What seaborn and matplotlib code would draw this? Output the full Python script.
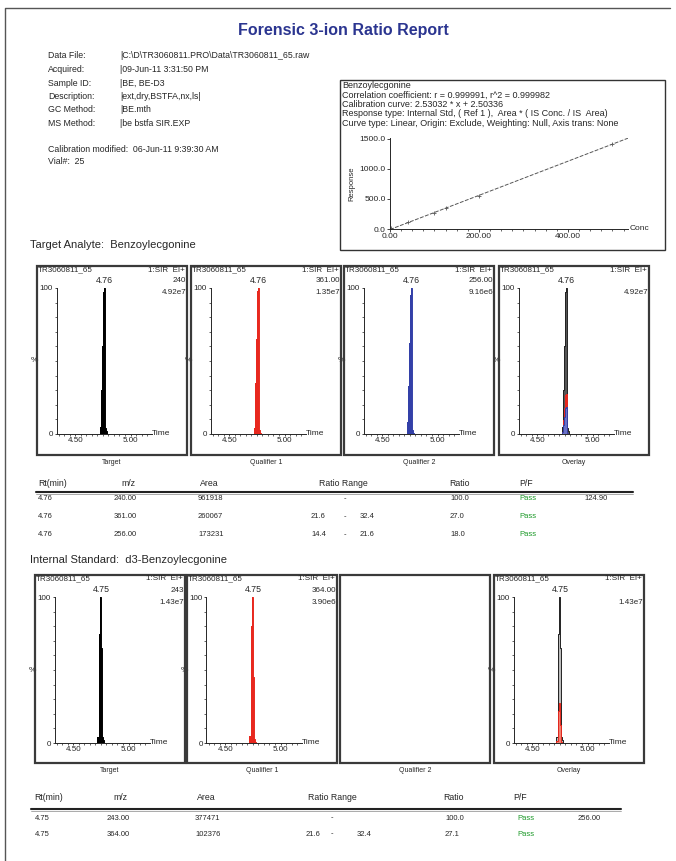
import numpy as np
import pandas as pd
import seaborn as sns
import matplotlib.pyplot as plt
from matplotlib.patches import Rectangle
from matplotlib.lines import Line2D

sns.set_style('ticks')
plt.rcParams['font.family'] = ['Liberation Sans', 'DejaVu Sans']

# ---- data ----
header_labels = ['Data File:', 'Acquired:', 'Sample ID:', 'Description:', 'GC Method:', 'MS Method:']
header_values = ['|C:\\D\\TR3060811.PRO\\Data\\TR3060811_65.raw', '|09-Jun-11 3:31:50 PM', '|BE, BE-D3',
                 '|ext,dry,BSTFA,nx,ls|', '|BE.mth', '|be bstfa SIR.EXP']

calib_lines = ['Benzoylecgonine',
               'Correlation coefficient: r = 0.999991, r^2 = 0.999982',
               'Calibration curve: 2.53032 * x + 2.50336',
               'Response type: Internal Std, ( Ref 1 ),  Area * ( IS Conc. / IS  Area)',
               'Curve type: Linear, Origin: Exclude, Weighting: Null, Axis trans: None']
calib_conc = [2.5, 40, 100, 125, 200, 500]
calib_resp = [10, 110, 270, 345, 545, 1420]

# chromatogram traces, % of own max
rt_ba = [4.720, 4.732, 4.740, 4.748, 4.756, 4.765, 4.774, 4.784, 4.794]
ba_240 = [0, 5, 30, 60, 97, 100, 4, 2, 0]
ba_361 = [0, 4, 35, 65, 98, 100, 3, 1, 0]
ba_256 = [0, 8, 33, 62, 95, 100, 3, 1, 0]
ba_max = [4.92e7, 1.35e7, 9.16e6]

rt_is = [4.712, 4.725, 4.733, 4.741, 4.749, 4.757, 4.765, 4.776, 4.786]
is_243 = [0, 4, 30, 75, 100, 65, 4, 2, 0]
is_364 = [0, 5, 40, 80, 100, 45, 3, 1, 0]
is_max = [1.43e7, 3.90e6]

tbl_cols = ['Rt(min)', 'm/z', 'Area', 'Ratio Range', 'Ratio', 'P/F']
ba_rt = ['4.76', '4.76', '4.76']
ba_mz = ['240.00', '361.00', '256.00']
ba_area = ['961918', '260067', '173231']
ba_lo = ['', '21.6', '14.4']
ba_hi = ['', '32.4', '21.6']
ba_ratio = ['100.0', '27.0', '18.0']
ba_pf = ['Pass', 'Pass', 'Pass']
ba_conc = '124.90'

is_rt = ['4.75', '4.75']
is_mz = ['243.00', '364.00']
is_area = ['377471', '102376']
is_lo = ['', '21.6']
is_hi = ['', '32.4']
is_ratio = ['100.0', '27.1']
is_pf = ['Pass', 'Pass']
is_conc = '256.00'

W, H = 676, 861
fig = plt.figure(figsize=(W / 100, H / 100), dpi=100)


def txt(x, y, s, **kw):
    kw.setdefault('fontsize', 5.5)
    kw.setdefault('va', 'center')
    fig.text(x / W, 1 - y / H, s, **kw)


def add_ax(left, top, width, height):
    return fig.add_axes([left / W, 1 - (top + height) / H, width / W, height / H])


def hline(x0, x1, y, lw=1.0, color='black'):
    fig.add_artist(Line2D([x0 / W, x1 / W], [1 - y / H, 1 - y / H], lw=lw, color=color,
                          transform=fig.transFigure))


# page border
fig.add_artist(Line2D([5 / W, 5 / W, 670 / W], [0, 1 - 8 / H, 1 - 8 / H], lw=1.0, color='#555555',
                      transform=fig.transFigure))

txt(343, 30, 'Forensic 3-ion Ratio Report', fontsize=11.5, fontweight='bold', color='#2b3590', ha='center')

hdr_y = [56, 69.5, 83, 96.5, 110, 123]
for lab, val, y in zip(header_labels, header_values, hdr_y):
    txt(48, y, lab, fontsize=6.3)
    txt(120, y, val, fontsize=6.3)
txt(48, 149, 'Calibration modified:  06-Jun-11 9:39:30 AM', fontsize=6.3)
txt(48, 162, 'Vial#:  25', fontsize=6.3)

# ---- calibration box ----
fig.add_artist(Rectangle((340 / W, 1 - 250 / H), 325 / W, 170 / H, fill=False, lw=1.0,
                         ec='#333333', transform=fig.transFigure))
for i, s in enumerate(calib_lines):
    txt(342, 85.5 + i * 9.5, s, fontsize=6.5)

cax = add_ax(390, 138, 238, 91)
cax.set_xlim(0, 535)
cax.set_ylim(0, 1515)
sns.regplot(x=calib_conc, y=calib_resp, ci=None, truncate=False, marker='+', ax=cax,
            scatter_kws={'s': 12, 'color': '#333333', 'linewidths': 0.6},
            line_kws={'color': '#555555', 'lw': 0.7, 'ls': (0, (4, 1.5))})
sns.despine(ax=cax)
cax.set_xlim(0, 535)
cax.set_ylim(0, 1515)
cax.set_xticks([0, 200, 400], ['0.00', '200.00', '400.00'])
cax.set_xticks(np.arange(0, 535, 25), minor=True)
cax.set_yticks([0, 500, 1000, 1500], ['0.0', '500.0', '1000.0', '1500.0'])
cax.tick_params(labelsize=6, length=2, width=0.6, pad=1)
cax.tick_params(which='minor', length=1.5, width=0.5)
for sp in cax.spines.values():
    sp.set_linewidth(0.7)
cax.patch.set_alpha(0)
txt(630, 229, 'Conc', fontsize=6)
txt(352, 184, 'Response', fontsize=5.5, rotation=90, ha='center')


def chrom_panel(L, T, traces, peak, mass, inten, label, hgt=189):
    fig.add_artist(Rectangle((L / W, 1 - (T + hgt) / H), 150 / W, hgt / H, fill=False, lw=1.6,
                             ec='#3a3a3a', transform=fig.transFigure))
    txt(75 + L, T + hgt + 7, label, fontsize=5, ha='center')
    if not traces:
        return
    ax = add_ax(L + 19.5, T + 22, 95, 146)
    for rt, vals, col, fillcol in traces:
        df = pd.DataFrame({'rt': rt, 'pct': vals})
        ax.fill_between(df['rt'], df['pct'], color=fillcol, lw=0, step='mid')
        sns.lineplot(data=df, x='rt', y='pct', color=col, lw=0.7, ax=ax, drawstyle='steps-mid')
    ax.set_xlim(4.33, 5.19)
    ax.set_ylim(0, 100)
    sns.despine(ax=ax)
    ax.set_xticks([4.5, 5.0], ['4.50', '5.00'])
    ax.set_xticks(np.arange(4.35, 5.19, 0.05), minor=True)
    ax.set_yticks([0, 100], ['0', '100'])
    ax.set_yticks(np.arange(0, 101, 10), minor=True)
    ax.tick_params(labelsize=5.8, length=1.5, width=0.6, pad=1)
    ax.tick_params(which='minor', length=1.5, width=0.5)
    for sp in ax.spines.values():
        sp.set_linewidth(0.7)
    ax.set_xlabel('')
    ax.set_ylabel('%', rotation=0, fontsize=6, labelpad=4, va='center')
    ax.patch.set_alpha(0)
    ax.annotate(peak, xy=(float(peak), 100), xytext=(0, 2), textcoords='offset points',
                ha='center', va='bottom', fontsize=6.3)
    txt(L + 115, T + 168, 'Time', fontsize=6)
    txt(L + 1, T + 4, 'TR3060811_65', fontsize=5.8)
    txt(L + 148, T + 4, '1:SIR  EI+', fontsize=5.8, ha='right')
    if mass:
        txt(L + 149, T + 15, mass, fontsize=5.8, ha='right')
    txt(L + 149, T + 27, inten, fontsize=5.8, ha='right')


def pct(vals, scale):
    return [v * scale for v in vals]


# ---- target analyte ----
txt(30, 245, 'Target Analyte:  Benzoylecgonine', fontsize=8)
row1 = [37, 191, 344, 499]
chrom_panel(row1[0], 266, [(rt_ba, ba_240, 'black', 'black')], '4.76', '240', '4.92e7', 'Target')
chrom_panel(row1[1], 266, [(rt_ba, ba_361, '#e8281e', '#e8281e')], '4.76', '361.00', '1.35e7', 'Qualifier 1')
chrom_panel(row1[2], 266, [(rt_ba, ba_256, '#3340a8', '#3340a8')], '4.76', '256.00', '9.16e6', 'Qualifier 2')
chrom_panel(row1[3], 266, [(rt_ba, ba_240, '#222222', '#555555'),
                           (rt_ba, pct(ba_361, ba_max[1] / ba_max[0]), '#e8281e', '#e8281e'),
                           (rt_ba, pct(ba_256, ba_max[2] / ba_max[0]), '#3340a8', '#6a72c8')],
            '4.76', '', '4.92e7', 'Overlay')


def table(x_cols, y_head, y_line, line_x, rows_y, cols, row_x, green_x, extra, extra_x):
    for s, x in zip(tbl_cols, x_cols):
        txt(x, y_head, s, fontsize=6.3)
    hline(line_x[0], line_x[1], y_line, lw=1.5, color='#222222')
    hline(line_x[0], line_x[1], y_line + 1.8, lw=0.5, color='#888888')
    for i, y in enumerate(rows_y):
        rt, mz, area, lo, hi, ratio, pf = [c[i] for c in cols]
        txt(row_x[0], y, rt, fontsize=5.5)
        txt(row_x[1], y, mz, fontsize=5.5)
        txt(row_x[2], y, area, fontsize=5.5)
        if lo:
            txt(row_x[3], y, lo, fontsize=5.5)
            txt(row_x[5], y, hi, fontsize=5.5)
        txt(row_x[4], y, '-', fontsize=5.5, ha='center')
        txt(row_x[6], y, ratio, fontsize=5.5)
        txt(green_x, y, pf, fontsize=5.5, color='#1e9a2a')
        if i == 0:
            txt(extra_x, y, extra, fontsize=5.5)


table([38, 121, 200, 319, 449, 519], 483, 492, (36, 633), [499, 517, 535],
      [ba_rt, ba_mz, ba_area, ba_lo, ba_hi, ba_ratio, ba_pf],
      [38, 114, 198, 311, 345, 360, 450], 519, ba_conc, 584)

# ---- internal standard ----
txt(30, 560, 'Internal Standard:  d3-Benzoylecgonine', fontsize=8)
row2 = [35, 187, 340, 494]
chrom_panel(row2[0], 575, [(rt_is, is_243, 'black', 'black')], '4.75', '243', '1.43e7', 'Target', 188)
chrom_panel(row2[1], 575, [(rt_is, is_364, '#e8281e', '#e8281e')], '4.75', '364.00', '3.90e6', 'Qualifier 1', 188)
chrom_panel(row2[2], 575, [], '', '', '', 'Qualifier 2', 188)
chrom_panel(row2[3], 575, [(rt_is, is_243, '#222222', '#bbbbbb'),
                           (rt_is, pct(is_364, is_max[1] / is_max[0]), '#e8281e', '#f08070')],
            '4.75', '', '1.43e7', 'Overlay', 188)

table([34, 113, 197, 308, 443, 513], 797, 809, (31, 621), [818, 834],
      [is_rt, is_mz, is_area, is_lo, is_hi, is_ratio, is_pf],
      [35, 107, 195, 306, 332, 357, 445], 517, is_conc, 578)

fig.savefig('out.png', dpi=100)
